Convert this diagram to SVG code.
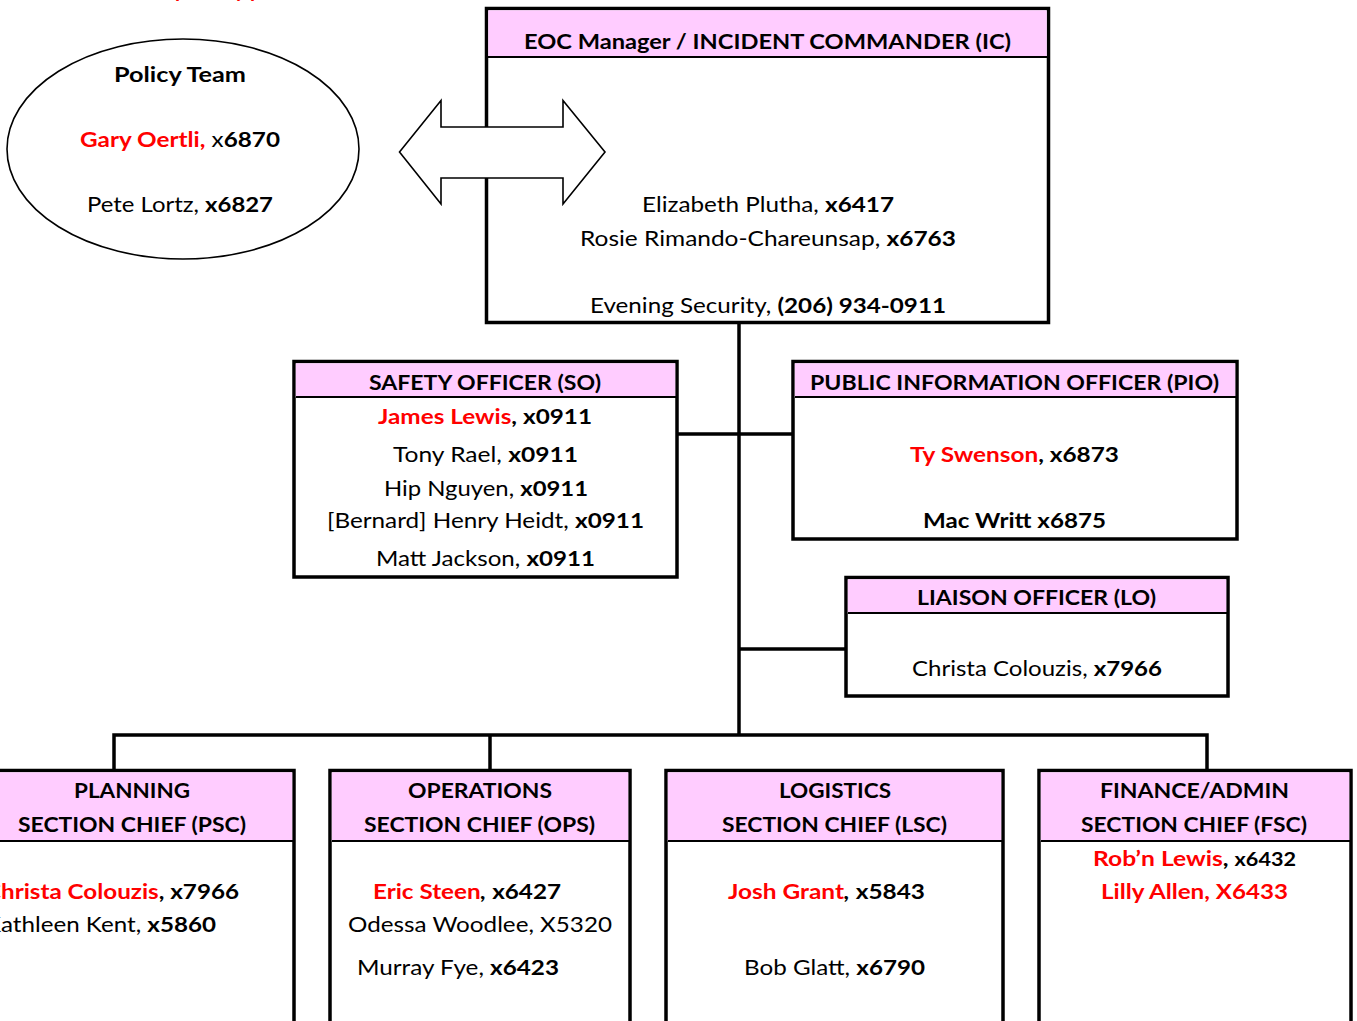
<svg xmlns="http://www.w3.org/2000/svg" width="1357" height="1021" viewBox="0 0 1357 1021">
  <style>
    text { font-family: Lato, "Open Sans", "Liberation Sans", sans-serif; font-size: 20.5px; fill: #000; }
    .b { font-weight: bold; }
    .r { fill: #ff0000; font-weight: bold; }
    .box { fill: #fff; stroke: #000; stroke-width: 3.5; }
    .hdr { fill: #ffccff; }
    .sep { stroke: #000; stroke-width: 2.2; }
    .wire { fill: none; stroke: #000; stroke-width: 3.5; }
  </style>

  <rect width="1357" height="1021" fill="#fff"/>

  <!-- legend line, mostly above the page edge -->
  <text class="r" x="175" y="-3">primary person</text>

  <!-- connectors -->
  <g id="connectors">
    <path class="wire" d="M739 323 V735"/>
    <path class="wire" d="M678 434 H793"/>
    <path class="wire" d="M739 649 H846"/>
    <path class="wire" d="M114 770 V735 H1207 V770"/>
    <path class="wire" d="M490 735 V770"/>
  </g>

  <!-- Incident Commander -->
  <g id="ic">
    <rect class="box" x="486.5" y="8.5" width="562" height="314"/>
    <rect class="hdr" x="488.3" y="10.3" width="558.4" height="46.7"/>
    <line class="sep" x1="488" y1="57" x2="1047" y2="57"/>
    <text class="b" x="524" y="49" textLength="487" lengthAdjust="spacingAndGlyphs">EOC Manager / INCIDENT COMMANDER (IC)</text>
    <text x="642" y="212" textLength="252" lengthAdjust="spacingAndGlyphs">Elizabeth Plutha, <tspan class="b">x6417</tspan></text>
    <text x="580" y="246" textLength="376" lengthAdjust="spacingAndGlyphs">Rosie Rimando-Chareunsap, <tspan class="b">x6763</tspan></text>
    <text x="590" y="313" textLength="356" lengthAdjust="spacingAndGlyphs">Evening Security, <tspan class="b">(206) 934-0911</tspan></text>
  </g>

  <!-- Policy Team -->
  <g id="policy">
    <ellipse cx="183" cy="149" rx="176" ry="110" fill="#fff" stroke="#000" stroke-width="1.6"/>
    <text class="b" x="114" y="82" textLength="132" lengthAdjust="spacingAndGlyphs">Policy Team</text>
    <text x="80" y="147" textLength="200" lengthAdjust="spacingAndGlyphs"><tspan class="r">Gary Oertli,</tspan> x<tspan class="b">6870</tspan></text>
    <text x="87" y="212" textLength="186" lengthAdjust="spacingAndGlyphs">Pete Lortz, <tspan class="b">x6827</tspan></text>
  </g>

  <!-- two-way link between Policy Team and IC -->
  <g id="link-arrow">
    <polygon points="399.5,152 441,100.5 441,127 563,127 563,100.5 605,152 563,204 563,178 441,178 441,204" fill="#fff" stroke="#000" stroke-width="1.6" stroke-linejoin="miter"/>
  </g>

  <!-- Safety Officer -->
  <g id="so">
    <rect class="box" x="294" y="361.5" width="383" height="215.5"/>
    <rect class="hdr" x="295.8" y="363.3" width="379.4" height="33.7"/>
    <line class="sep" x1="296" y1="397" x2="676" y2="397"/>
    <text class="b" x="369" y="390" textLength="232" lengthAdjust="spacingAndGlyphs">SAFETY OFFICER (SO)</text>
    <text class="b" x="378" y="424" textLength="214" lengthAdjust="spacingAndGlyphs"><tspan class="r">James Lewis</tspan>, x0911</text>
    <text x="393" y="462" textLength="185" lengthAdjust="spacingAndGlyphs">Tony Rael, <tspan class="b">x0911</tspan></text>
    <text x="384" y="496" textLength="204" lengthAdjust="spacingAndGlyphs">Hip Nguyen, <tspan class="b">x0911</tspan></text>
    <text x="327" y="528" textLength="317" lengthAdjust="spacingAndGlyphs">[Bernard] Henry Heidt, <tspan class="b">x0911</tspan></text>
    <text x="376" y="566" textLength="219" lengthAdjust="spacingAndGlyphs">Matt Jackson, <tspan class="b">x0911</tspan></text>
  </g>

  <!-- Public Information Officer -->
  <g id="pio">
    <rect class="box" x="793" y="361.5" width="444" height="177.5"/>
    <rect class="hdr" x="794.8" y="363.3" width="440.4" height="33.7"/>
    <line class="sep" x1="795" y1="397" x2="1236" y2="397"/>
    <text class="b" x="810" y="390" textLength="409" lengthAdjust="spacingAndGlyphs">PUBLIC INFORMATION OFFICER (PIO)</text>
    <text class="b" x="910" y="462" textLength="209" lengthAdjust="spacingAndGlyphs"><tspan class="r">Ty Swenson</tspan>, x6873</text>
    <text class="b" x="923" y="528" textLength="183" lengthAdjust="spacingAndGlyphs">Mac Writt x6875</text>
  </g>

  <!-- Liaison Officer -->
  <g id="lo">
    <rect class="box" x="846" y="577.5" width="382" height="118.5"/>
    <rect class="hdr" x="847.8" y="579.3" width="378.4" height="33.7"/>
    <line class="sep" x1="848" y1="613" x2="1227" y2="613"/>
    <text class="b" x="917" y="605" textLength="239" lengthAdjust="spacingAndGlyphs">LIAISON OFFICER (LO)</text>
    <text x="912" y="676" textLength="250" lengthAdjust="spacingAndGlyphs">Christa Colouzis, <tspan class="b">x7966</tspan></text>
  </g>

  <!-- Planning Section Chief (left side runs past the page edge) -->
  <g id="psc">
    <rect class="box" x="-40" y="770.5" width="334" height="280"/>
    <rect class="hdr" x="-38" y="772.3" width="330.2" height="68.7"/>
    <line class="sep" x1="-38" y1="841" x2="293" y2="841"/>
    <text class="b" x="74" y="798" textLength="116" lengthAdjust="spacingAndGlyphs">PLANNING</text>
    <text class="b" x="18" y="832" textLength="228" lengthAdjust="spacingAndGlyphs">SECTION CHIEF (PSC)</text>
    <text class="b" x="-15" y="899" textLength="254" lengthAdjust="spacingAndGlyphs"><tspan class="r">Christa Colouzis</tspan>, x7966</text>
    <text x="-15" y="932" textLength="231" lengthAdjust="spacingAndGlyphs">Kathleen Kent, <tspan class="b">x5860</tspan></text>
  </g>

  <!-- Operations Section Chief -->
  <g id="ops">
    <rect class="box" x="330" y="770.5" width="300" height="280"/>
    <rect class="hdr" x="331.8" y="772.3" width="296.4" height="68.7"/>
    <line class="sep" x1="332" y1="841" x2="629" y2="841"/>
    <text class="b" x="408" y="798" textLength="144" lengthAdjust="spacingAndGlyphs">OPERATIONS</text>
    <text class="b" x="364" y="832" textLength="231" lengthAdjust="spacingAndGlyphs">SECTION CHIEF (OPS)</text>
    <text class="b" x="373" y="899" textLength="188" lengthAdjust="spacingAndGlyphs"><tspan class="r">Eric Steen</tspan><tspan font-style="italic">,</tspan> x6427</text>
    <text x="348" y="932" textLength="264" lengthAdjust="spacingAndGlyphs">Odessa Woodlee, X5320</text>
    <text x="357" y="975" textLength="202" lengthAdjust="spacingAndGlyphs">Murray Fye, <tspan class="b">x6423</tspan></text>
  </g>

  <!-- Logistics Section Chief -->
  <g id="lsc">
    <rect class="box" x="666" y="770.5" width="337" height="280"/>
    <rect class="hdr" x="667.8" y="772.3" width="333.4" height="68.7"/>
    <line class="sep" x1="668" y1="841" x2="1002" y2="841"/>
    <text class="b" x="779" y="798" textLength="112" lengthAdjust="spacingAndGlyphs">LOGISTICS</text>
    <text class="b" x="722" y="832" textLength="225" lengthAdjust="spacingAndGlyphs">SECTION CHIEF (LSC)</text>
    <text class="b" x="728" y="899" textLength="197" lengthAdjust="spacingAndGlyphs"><tspan class="r">Josh Grant</tspan><tspan font-style="italic">,</tspan> x5843</text>
    <text x="744" y="975" textLength="181" lengthAdjust="spacingAndGlyphs">Bob Glatt, <tspan class="b">x6790</tspan></text>
  </g>

  <!-- Finance/Admin Section Chief -->
  <g id="fsc">
    <rect class="box" x="1039" y="770.5" width="312" height="280"/>
    <rect class="hdr" x="1040.8" y="772.3" width="308.4" height="68.7"/>
    <line class="sep" x1="1041" y1="841" x2="1350" y2="841"/>
    <text class="b" x="1100" y="798" textLength="189" lengthAdjust="spacingAndGlyphs">FINANCE/ADMIN</text>
    <text class="b" x="1081" y="832" textLength="226" lengthAdjust="spacingAndGlyphs">SECTION CHIEF (FSC)</text>
    <text class="b" x="1093" y="866" textLength="203" lengthAdjust="spacingAndGlyphs"><tspan class="r">Rob’n Lewis</tspan>, <tspan font-size="18px">x6432</tspan></text>
    <text class="r" x="1101" y="899" textLength="187" lengthAdjust="spacingAndGlyphs">Lilly Allen, X6433</text>
  </g>
</svg>
